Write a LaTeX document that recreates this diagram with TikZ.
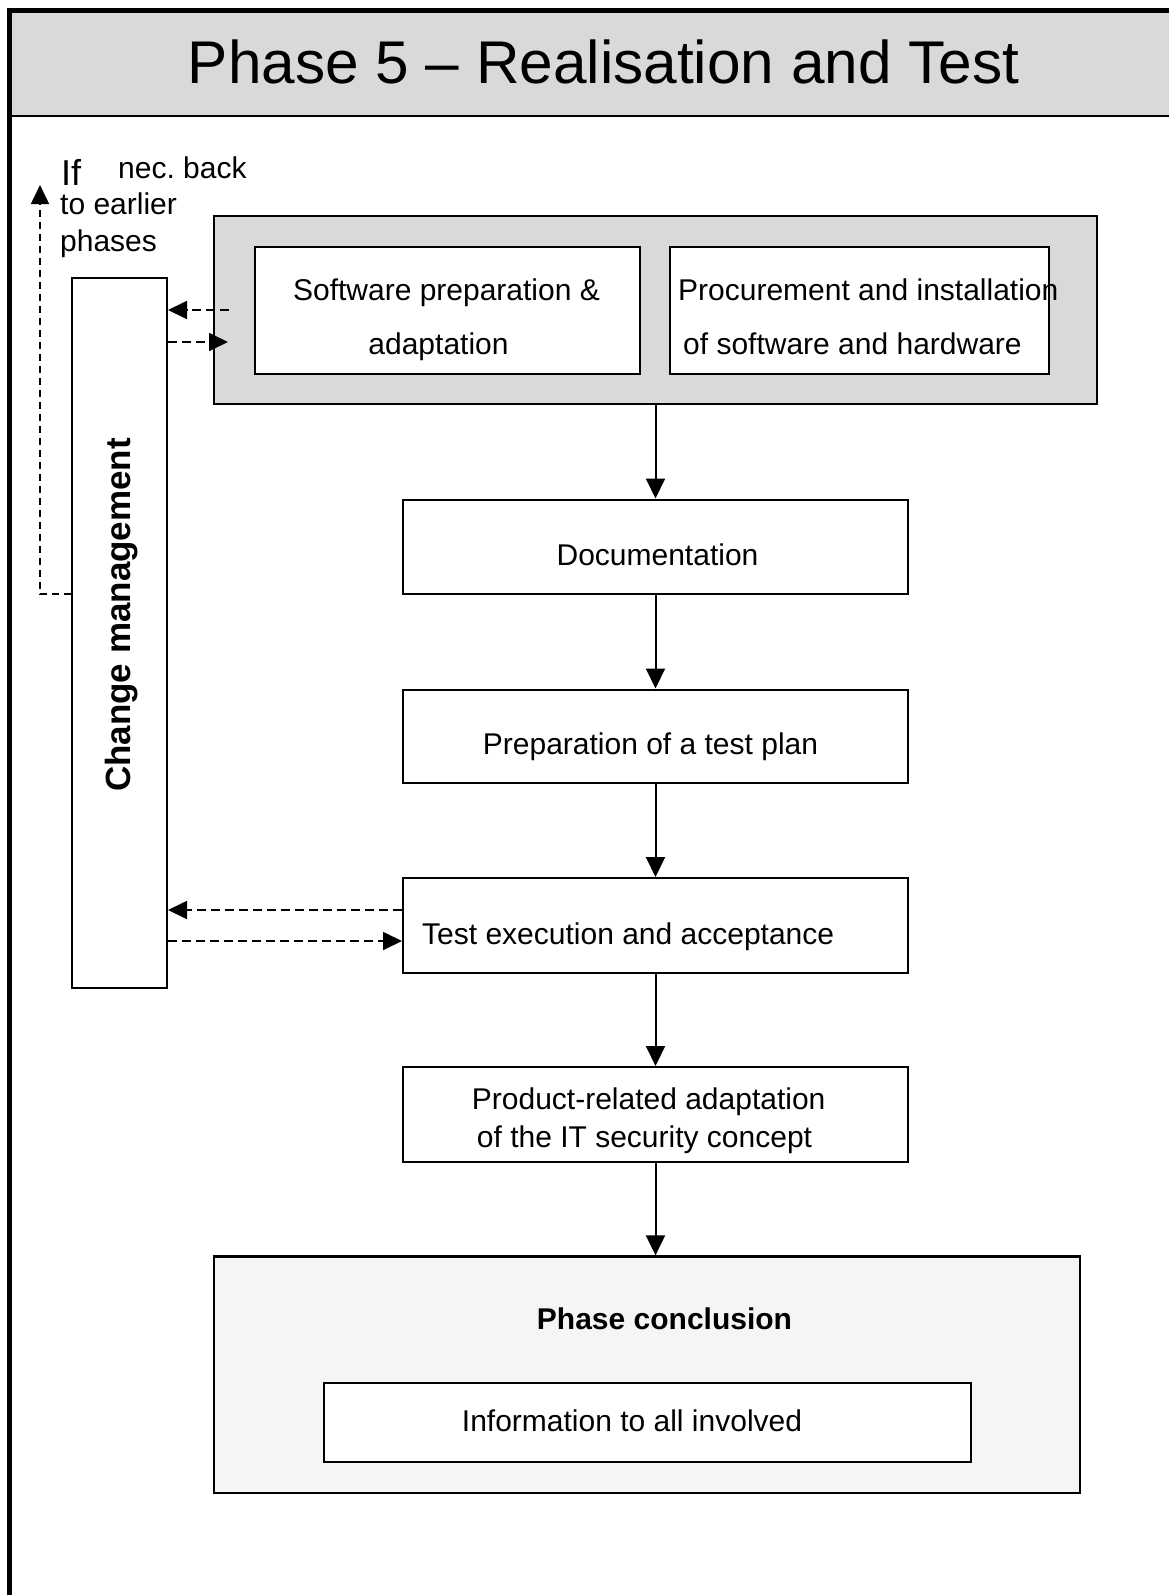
\documentclass[tikz,border=0pt]{standalone}
\usepackage{fontspec}
\setmainfont{Liberation Sans}
\usetikzlibrary{arrows.meta,calc}
\definecolor{hdrgray}{HTML}{D9D9D9}
\definecolor{grpgray}{HTML}{D9D9D9}
\definecolor{conclfill}{HTML}{F5F5F5}
\frenchspacing
\begin{document}
\begin{tikzpicture}[x=1pt,y=-1pt,
  box/.style={draw=black, line width=2pt, fill=white, rectangle, inner sep=0pt},
  txt/.style={inner sep=0pt, anchor=base, font=\fontsize{30}{36}\selectfont},
  txtl/.style={inner sep=0pt, anchor=base west, font=\fontsize{30}{36}\selectfont},
  flow/.style={line width=2pt, -{Triangle[length=20pt,width=19pt]}},
  dflow/.style={line width=1.8pt, dash pattern=on 9pt off 5pt, -{Triangle[length=19pt,width=18pt]}},
]
\useasboundingbox (0,0) rectangle (1168,1595);
% header and frame
\fill[hdrgray] (9.7,10.8) rectangle (1175,116);
\draw[line width=2.5pt] (9.7,116) -- (1175,116);
\draw[line width=4.6pt] (9.7,1605) -- (9.7,10.8) -- (1175,10.8);
\node[inner sep=0pt, anchor=base, font=\fontsize{60.3}{70}\selectfont] (title) at (603.5,83) {Phase 5 – Realisation and Test};

% group box
\node[box, fill=grpgray, minimum width=883pt, minimum height=188pt] (grp) at (655.5,310) {};
\node[box, minimum width=385pt, minimum height=127pt] (soft) at (447.5,310.5) {};
\node[box, minimum width=379pt, minimum height=127pt] (proc) at (859.5,310.5) {};
\node[txt] (softa) at (446.5,300) {Software preparation \&};
\node[txt] (softb) at (438.5,354) {adaptation};
\node[txtl] (proca) at (678,300) {Procurement and installation};
\node[txtl] (procb) at (683,354) {of software and hardware};

% change management
\node[box, minimum width=95.5pt, minimum height=710pt] (cm) at (119.25,633) {};
\node[rotate=90, anchor=base, inner sep=0pt, font=\fontsize{35}{40}\selectfont\bfseries] (cmlabel) at (130,615) {Change management};

% flow boxes
\node[box, minimum width=505pt, minimum height=94.5pt] (doc) at (655.5,546.75) {};
\node[txt] (doct) at (657.5,565) {Documentation};
\node[box, minimum width=505pt, minimum height=93.5pt] (plan) at (655.5,736.25) {};
\node[txt] (plant) at (650.5,754) {Preparation of a test plan};
\node[box, minimum width=505pt, minimum height=95pt] (exec) at (655.5,925.5) {};
\node[txtl] (exect) at (422,944) {Test execution and acceptance};
\node[box, minimum width=505pt, minimum height=95pt] (prod) at (655.5,1114.5) {};
\node[txt] (proda) at (648.7,1109) {Product-related adaptation};
\node[txt] (prodb) at (644.5,1147) {of the IT security concept};

% conclusion
\node[box, fill=conclfill, line width=2.3pt, minimum width=866pt, minimum height=236.5pt] (concl) at (647,1374.75) {};
\node[inner sep=0pt, anchor=base, font=\fontsize{30}{36}\selectfont\bfseries] (conclt) at (664.5,1329) {Phase conclusion};
\node[box, minimum width=647pt, minimum height=78.5pt] (info) at (647.5,1422.25) {};
\node[txt] (infot) at (632,1431) {Information to all involved};

% back label
\node[inner sep=0pt, anchor=base west, font=\fontsize{36}{40}\selectfont] (lif) at (61,185) {If};
\node[txtl] (lnec) at (118,178) {nec. back};
\node[txtl] (lto) at (60,214) {to earlier};
\node[txtl] (lph) at (60,251) {phases};

% solid arrows
\draw[flow] (grp.south) -- (doc.north);
\draw[flow] (doc.south) -- (plan.north);
\draw[flow] (plan.south) -- (exec.north);
\draw[flow] (exec.south) -- (prod.north);
\draw[flow] (prod.south) -- (prod.south |- concl.north);

% dashed arrows
\coordinate (back) at (40,185);
\draw[dflow] ([xshift=16pt]grp.west) -- (grp.west -| cm.east);
\draw[dflow] ($(cm.east |- grp.west)+(0,32)$) -- ($(grp.west)+(15,32)$);
\draw[dflow] ($(exec.west)+(0,-15.5)$) -- ($(cm.east |- exec.west)+(0,-15.5)$);
\draw[dflow] ($(cm.east |- exec.west)+(0,15.5)$) -- ($(exec.west)+(0,15.5)$);
\draw[dflow, line width=1.6pt, dash pattern=on 7pt off 5pt] ($(cm.west)+(0,-39)$) -| (back);
\end{tikzpicture}
\end{document}
